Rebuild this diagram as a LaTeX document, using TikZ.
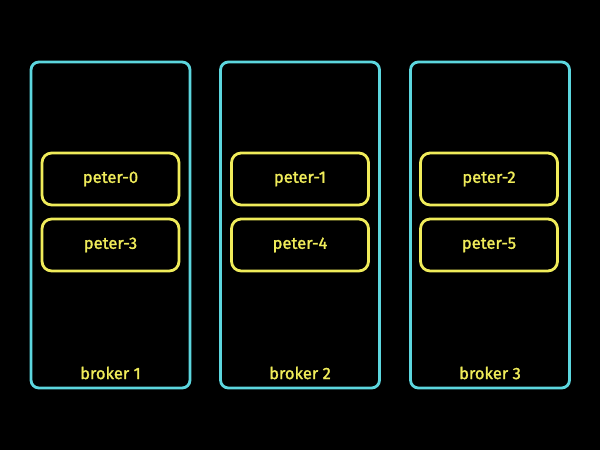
\documentclass[tikz,border=0pt]{standalone}
\usepackage{fontspec}
\setmainfont{Fira Sans}
\newfontfamily\labelfont{Fira Sans}[FakeBold=1.5]
\usepackage{tikz}
\usetikzlibrary{calc}
\definecolor{brokercyan}{HTML}{5CD6DE}
\definecolor{peteryellow}{HTML}{F0EC5A}
\tikzset{
  broker/.style={draw=brokercyan,line width=1.6pt,rounded corners=4.5pt,
    minimum width=3.18cm,minimum height=6.52cm},
  part/.style={draw=peteryellow,line width=1.6pt,rounded corners=5.5pt,
    minimum width=2.74cm,minimum height=1.04cm,text=peteryellow,
    font=\labelfont\fontsize{9.4}{10}\selectfont},
  blabel/.style={text=peteryellow,font=\labelfont\fontsize{9.4}{10}\selectfont}
}

\begin{document}
\begin{tikzpicture}
    \fill[black] (0,0) rectangle (12,9);
    \useasboundingbox (0,0) rectangle (12,9);
    \node[broker](B1) at (2.21,4.5){};
    \node[broker](B2) at (6.0,4.5){};
    \node[broker](B3) at (9.8,4.5){};
    \node[part](P0) at (2.21,5.42){peter-0};
    \node[part](P3) at (2.21,4.1){peter-3};
    \node[part](P1) at (6.0,5.42){peter-1};
    \node[part](P4) at (6.0,4.1){peter-4};
    \node[part](P2) at (9.78,5.42){peter-2};
    \node[part](P5) at (9.78,4.1){peter-5};
    \node[blabel](L1) at (2.21,1.54){broker 1};
    \node[blabel](L2) at (6.0,1.54){broker 2};
    \node[blabel](L3) at (9.8,1.54){broker 3};
  \end{tikzpicture}
\end{document}
